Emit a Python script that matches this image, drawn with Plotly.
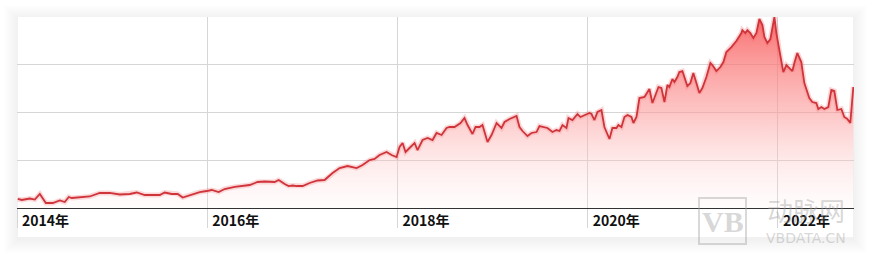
import plotly.graph_objects as go

# Decimal-year positions and values
years = [2014.008, 2014.050, 2014.135, 2014.187, 2014.240, 2014.303, 2014.376, 2014.450, 2014.502, 2014.544,
         2014.576, 2014.660, 2014.765, 2014.870, 2014.975, 2015.080, 2015.185, 2015.259, 2015.343, 2015.501,
         2015.553, 2015.627, 2015.690, 2015.742, 2015.816, 2015.921, 2015.994, 2016.047, 2016.120, 2016.183,
         2016.289, 2016.341, 2016.446, 2016.530, 2016.604, 2016.709, 2016.751, 2016.814, 2016.856, 2016.898,
         2016.940, 2017.003, 2017.077, 2017.161, 2017.234, 2017.318, 2017.392, 2017.476, 2017.570, 2017.634,
         2017.707, 2017.760, 2017.812, 2017.886, 2017.938, 2017.991, 2018.022, 2018.054, 2018.085, 2018.127,
         2018.180, 2018.211, 2018.264, 2018.317, 2018.369, 2018.411, 2018.464, 2018.516, 2018.549, 2018.600,
         2018.632, 2018.663, 2018.705, 2018.737, 2018.789, 2018.821, 2018.863, 2018.894, 2018.947, 2018.989,
         2019.042, 2019.094, 2019.126, 2019.178, 2019.252, 2019.283, 2019.315, 2019.367, 2019.409, 2019.462,
         2019.493, 2019.546, 2019.577, 2019.630, 2019.672, 2019.704, 2019.735, 2019.777, 2019.798, 2019.840,
         2019.893, 2019.924, 2019.966, 2020.019, 2020.040, 2020.071, 2020.103, 2020.145, 2020.176, 2020.229,
         2020.260, 2020.302, 2020.323, 2020.355, 2020.386, 2020.418, 2020.460, 2020.481, 2020.513, 2020.544,
         2020.597, 2020.649, 2020.681, 2020.712, 2020.744, 2020.775, 2020.807, 2020.838, 2020.859, 2020.891,
         2020.912, 2020.943, 2020.964, 2020.996, 2021.048, 2021.080, 2021.111, 2021.143, 2021.174, 2021.206,
         2021.248, 2021.290, 2021.311, 2021.353, 2021.395, 2021.427, 2021.458, 2021.511, 2021.563, 2021.616,
         2021.626, 2021.658, 2021.679, 2021.710, 2021.742, 2021.774, 2021.805, 2021.837, 2021.858, 2021.889,
         2021.921, 2021.963, 2021.984, 2022.015, 2022.057, 2022.089, 2022.120, 2022.152, 2022.173, 2022.204,
         2022.246, 2022.278, 2022.330, 2022.362, 2022.404, 2022.425, 2022.457, 2022.488, 2022.530, 2022.562,
         2022.593, 2022.625, 2022.667, 2022.698, 2022.730, 2022.761, 2022.793]

values = [18.8, 16.7, 19.8, 17.7, 29.2, 10.4, 10.4, 15.6, 12.5, 22.9,
          20.8, 22.9, 24.0, 31.3, 31.3, 28.1, 29.2, 32.3, 27.1, 27.1,
          32.3, 29.2, 29.2, 21.9, 27.1, 33.3, 35.4, 37.5, 33.3, 39.6,
          43.8, 44.8, 47.9, 54.2, 55.2, 54.2, 58.3, 50.0, 45.8, 46.9,
          45.8, 45.8, 52.1, 57.3, 58.3, 72.9, 83.3, 87.5, 83.3, 89.6,
          100.0, 102.1, 110.4, 116.7, 110.4, 106.3, 127.1, 135.4, 116.7, 125.0,
          135.4, 120.8, 141.7, 145.8, 141.7, 156.3, 152.1, 166.7, 168.8, 168.8,
          172.9, 177.1, 187.5, 172.9, 154.2, 168.8, 168.8, 172.9, 137.5, 152.1,
          177.1, 166.7, 179.2, 185.4, 191.7, 168.8, 160.4, 150.0, 156.3, 158.3,
          170.8, 168.8, 166.7, 158.3, 162.5, 160.4, 172.9, 166.7, 187.5, 183.3,
          195.8, 189.6, 193.8, 197.9, 195.8, 183.3, 200.0, 204.2, 168.8, 143.8,
          166.7, 166.7, 172.9, 168.8, 189.6, 193.8, 189.6, 177.1, 189.6, 229.2,
          231.3, 247.9, 218.8, 235.4, 252.1, 250.0, 220.8, 256.3, 252.1, 268.8,
          262.5, 272.9, 283.3, 285.4, 254.2, 260.4, 281.3, 260.4, 239.6, 250.0,
          272.9, 302.1, 297.9, 285.4, 293.8, 304.2, 325.0, 335.4, 347.9, 364.6,
          370.8, 364.6, 370.8, 364.6, 354.2, 364.6, 393.8, 381.3, 356.3, 343.8,
          352.1, 397.9, 364.6, 329.2, 283.3, 297.9, 291.7, 285.4, 302.1, 322.9,
          304.2, 260.4, 229.2, 220.8, 218.8, 206.3, 210.4, 206.3, 210.4, 245.8,
          243.8, 204.2, 206.3, 189.6, 185.4, 177.1, 252.1]

tick_years = [2014, 2016, 2018, 2020, 2022]
tick_labels = ["2014年", "2016年", "2018年", "2020年", "2022年"]

W, H = 872, 256
ML, MR, MT, MB = 17, 18, 17, 48
PW, PH = W - ML - MR, H - MT - MB


def px_x(p):
    return (p - ML) / PW


def px_y(p):
    return (H - MB - p) / PH


fig = go.Figure()

# glow under the line
fig.add_trace(go.Scatter(
    x=years, y=values, mode="lines",
    line=dict(color="rgba(235,90,95,0.25)", width=5),
    hoverinfo="skip", showlegend=False,
))
fig.add_trace(go.Scatter(
    x=years, y=values, mode="lines",
    line=dict(color="#cf343b", width=1.8),
    fill="tozeroy",
    fillgradient=dict(
        type="vertical", start=0, stop=398,
        colorscale=[[0, "rgba(255,235,235,0.15)"], [0.5, "rgba(252,150,150,0.55)"], [1, "rgba(248,85,85,0.85)"]],
    ),
    showlegend=False,
))

shapes = []
# soft shadow around the card
card = (18, 17, 853, 237)
for i in range(14, 0, -1):
    shapes.append(dict(
        type="rect", xref="paper", yref="paper", layer="below",
        x0=px_x(card[0] - i), x1=px_x(card[2] + i),
        y0=px_y(card[3] + i + 2), y1=px_y(card[1] - i + 2),
        fillcolor="rgba(0,0,0,0.0055)", line=dict(width=0),
    ))
shapes.append(dict(
    type="rect", xref="paper", yref="paper", layer="below",
    x0=px_x(card[0]), x1=px_x(card[2]), y0=px_y(card[3]), y1=px_y(card[1]),
    fillcolor="white", line=dict(width=0),
))
# watermark logo box
shapes.append(dict(
    type="rect", xref="paper", yref="paper", layer="above",
    x0=px_x(699), x1=px_x(746), y0=px_y(244), y1=px_y(198),
    fillcolor="rgba(255,255,255,0)", line=dict(color="rgba(160,160,160,0.4)", width=2),
))

wm = "rgba(160,160,160,0.42)"
annotations = [
    dict(text="<b>VB</b>", x=px_x(722.5), y=px_y(221), xref="paper", yref="paper",
         xanchor="center", yanchor="middle",
         showarrow=False, font=dict(family="Liberation Serif", size=30, color=wm)),
    dict(text="动脉网", x=px_x(806), y=px_y(209), xref="paper", yref="paper",
         xanchor="center", yanchor="middle",
         showarrow=False, font=dict(family="Noto Sans CJK SC", size=26, color=wm)),
    dict(text="VBDATA.CN", x=px_x(806), y=px_y(238.5), xref="paper", yref="paper",
         xanchor="center", yanchor="middle",
         showarrow=False, font=dict(family="DejaVu Sans", size=14, color=wm)),
]

fig.update_layout(
    width=W, height=H,
    margin=dict(l=ML, r=MR, t=MT, b=MB),
    paper_bgcolor="white",
    plot_bgcolor="rgba(0,0,0,0)",
    shapes=shapes,
    annotations=annotations,
    xaxis=dict(
        range=[2014.0, 2022.8],
        tickvals=tick_years, ticktext=tick_labels,
        ticklabelposition="outside right",
        ticklabelshift=4,
        ticks="outside", ticklen=19, tickcolor="#d6d6d6", tickwidth=1,
        showgrid=True, gridcolor="#d6d6d6", gridwidth=1,
        showline=True, linecolor="#333333", linewidth=1,
        zeroline=False,
        tickfont=dict(family="Noto Sans CJK SC", size=14, color="#111111", weight="bold"),
    ),
    yaxis=dict(
        range=[0, 398], dtick=100,
        showticklabels=False, ticks="",
        showgrid=True, gridcolor="#d6d6d6", gridwidth=1,
        zeroline=False, showline=False,
    ),
)

fig.write_html("out.html")
